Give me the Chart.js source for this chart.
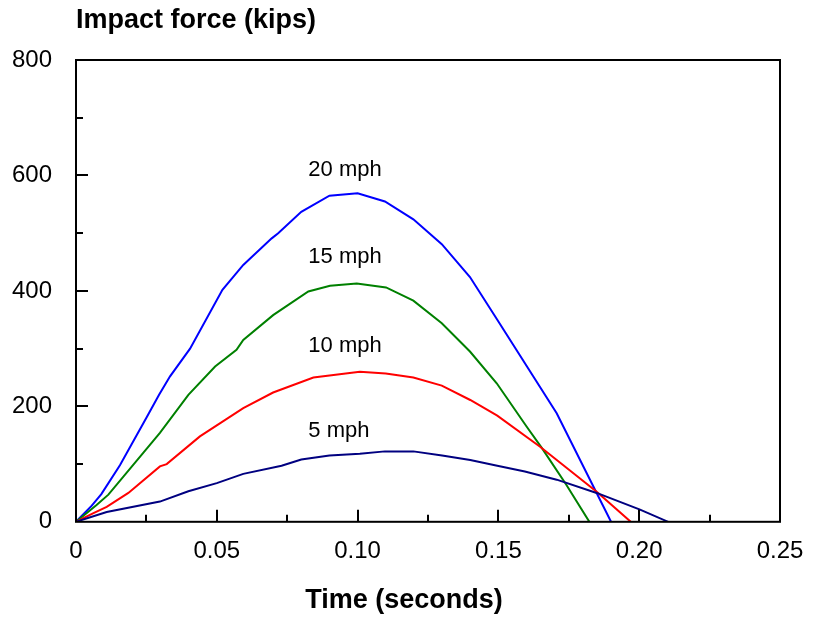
<!DOCTYPE html>
<html>
<head>
<meta charset="utf-8">
<title>Impact force vs time</title>
<script src="https://cdn.jsdelivr.net/npm/chart.js@4.4.1/dist/chart.umd.min.js"></script>
<style>
  html, body { margin: 0; padding: 0; background: #fff; }
  canvas { display: block; }
</style>
</head>
<body>
<canvas id="impact-chart" width="825" height="621"></canvas>
<script>
// Curve names
const speedLabels = ['5 mph', '10 mph', '15 mph', '20 mph'];

// Time (s) and impact force (kips)
const time5 = [0, 0.0109, 0.0298, 0.0399, 0.05, 0.0594, 0.073, 0.080, 0.090, 0.1008, 0.1097, 0.1198, 0.13, 0.14, 0.1496, 0.1594, 0.1707, 0.1849, 0.2003, 0.2103];
const force5 = [0, 17, 35, 53, 67, 83, 97, 108, 115, 118, 122, 122, 115, 107, 97, 87, 73, 50, 21, 0];

const time10 = [0, 0.0062, 0.0109, 0.0186, 0.0298, 0.0322, 0.044, 0.0594, 0.070, 0.0843, 0.1008, 0.11, 0.1198, 0.1299, 0.14, 0.1496, 0.1648, 0.1849, 0.197];
const force10 = [0, 15, 26, 50, 96, 100, 148, 197, 224, 250, 260, 257, 250, 236, 211, 184, 130, 52, 0];

const time15 = [0, 0.0073, 0.0115, 0.0298, 0.0399, 0.0494, 0.057, 0.0594, 0.070, 0.0825, 0.0902, 0.0997, 0.1101, 0.1198, 0.1299, 0.1399, 0.1494, 0.16, 0.1654, 0.174, 0.1823];
const force15 = [0, 29, 47, 154, 220, 269, 298, 315, 358, 399, 409, 413, 406, 383, 344, 295, 240, 165, 128, 65, 0];

const time20 = [0, 0.0056, 0.009, 0.0156, 0.0251, 0.0295, 0.0334, 0.0405, 0.052, 0.0594, 0.0695, 0.0718, 0.080, 0.090, 0.100, 0.1097, 0.1198, 0.1299, 0.1399, 0.1496, 0.1707, 0.190];
const force20 = [0, 28, 48, 98, 181, 220, 252, 300, 402, 445, 491, 500, 537, 565, 569, 555, 524, 481, 424, 350, 188, 0];

// Axis limits and tick steps
const xMin = 0, xMax = 0.25, xStep = 0.025;
const yMin = 0, yMax = 800, yStep = 100;

// Where each curve name sits (data units)
const labelAnchors = [
    { x: 0.0825, y: 157 },
    { x: 0.0825, y: 304 },
    { x: 0.0825, y: 458 },
    { x: 0.0825, y: 610 }
];

const lineColors = ['#000080', '#ff0000', '#008000', '#0000ff'];

const fontFamily = 'Arial, "Liberation Sans", Helvetica, sans-serif';
Chart.defaults.font.family = fontFamily;
Chart.defaults.color = '#000';

const seriesTimes = [time5, time10, time15, time20];
const seriesForces = [force5, force10, force15, force20];

const datasets = speedLabels.map((label, i) => ({
    label: label,
    data: seriesTimes[i].map((t, j) => ({ x: t, y: seriesForces[i][j] })),
    borderColor: lineColors[i],
    backgroundColor: lineColors[i],
    borderWidth: 2,
    pointRadius: 0,
    tension: 0,
    fill: false
}));

function isMajorX(v) {
    return Math.round(v * 1000) % 50 === 0;
}

// Inward tick marks and the box round the plot
const frameAndTicks = {
    id: 'frameAndTicks',
    afterDatasetsDraw(chart) {
        const { ctx, chartArea: a, scales: { x, y } } = chart;
        ctx.save();
        ctx.strokeStyle = '#000';
        ctx.lineWidth = 2;
        ctx.beginPath();
        x.ticks.forEach(t => {
            if (t.value <= xMin || t.value >= xMax) return;
            const px = Math.round(x.getPixelForValue(t.value));
            const len = isMajorX(t.value) ? 12 : 7;
            ctx.moveTo(px, a.bottom);
            ctx.lineTo(px, a.bottom - len);
        });
        y.ticks.forEach(t => {
            if (t.value <= yMin || t.value >= yMax) return;
            const py = Math.round(y.getPixelForValue(t.value));
            const len = t.value % 200 === 0 ? 12 : 7;
            ctx.moveTo(a.left, py);
            ctx.lineTo(a.left + len, py);
        });
        ctx.stroke();
        ctx.strokeRect(a.left, a.top, a.right - a.left, a.bottom - a.top);
        ctx.restore();
    }
};

// Curve names next to the peaks
const curveLabels = {
    id: 'curveLabels',
    afterDatasetsDraw(chart) {
        const { ctx, scales: { x, y } } = chart;
        ctx.save();
        ctx.font = '22px ' + fontFamily;
        ctx.fillStyle = '#000';
        ctx.textAlign = 'left';
        ctx.textBaseline = 'middle';
        speedLabels.forEach((label, i) => {
            ctx.fillText(label, x.getPixelForValue(labelAnchors[i].x), y.getPixelForValue(labelAnchors[i].y));
        });
        ctx.restore();
    }
};

new Chart(document.getElementById('impact-chart'), {
    type: 'line',
    data: { datasets: datasets },
    plugins: [frameAndTicks, curveLabels],
    options: {
        responsive: false,
        animation: false,
        layout: {
            padding: { left: 8, right: 25, top: 0, bottom: 0 }
        },
        plugins: {
            legend: { display: false },
            tooltip: { enabled: false },
            title: {
                display: true,
                text: 'Impact force (kips)',
                position: 'top',
                align: 'start',
                fullSize: false,
                font: { size: 27, weight: 'bold' },
                padding: { top: 4, bottom: 23.6 }
            },
            subtitle: {
                display: true,
                text: 'Time (seconds)',
                position: 'bottom',
                align: 'center',
                fullSize: true,
                font: { size: 27, weight: 'bold' },
                color: '#000',
                padding: { top: 2.8, bottom: 4 }
            }
        },
        scales: {
            x: {
                type: 'linear',
                min: xMin,
                max: xMax,
                grid: { display: false, drawTicks: false },
                border: { display: false },
                afterFit: scale => { scale.height = 60; },
                ticks: {
                    stepSize: xStep,
                    autoSkip: false,
                    maxRotation: 0,
                    padding: 15,
                    font: { size: 24 },
                    callback: v => isMajorX(v) ? (v === 0 ? '0' : v.toFixed(2)) : ''
                }
            },
            y: {
                type: 'linear',
                min: yMin,
                max: yMax,
                grid: { display: false, drawTicks: false },
                border: { display: false },
                afterFit: scale => { scale.width = 68; },
                ticks: {
                    stepSize: yStep,
                    autoSkip: false,
                    padding: 24,
                    font: { size: 24 },
                    callback: v => v % 200 === 0 ? String(v) : ''
                }
            },
            // empty right-hand margin so the time title sits where the original has it
            yRight: {
                type: 'linear',
                position: 'right',
                min: yMin,
                max: yMax,
                grid: { display: false, drawTicks: false },
                border: { display: false },
                ticks: { display: false },
                afterFit: scale => { scale.width = 20; }
            }
        }
    }
});
</script>
</body>
</html>
